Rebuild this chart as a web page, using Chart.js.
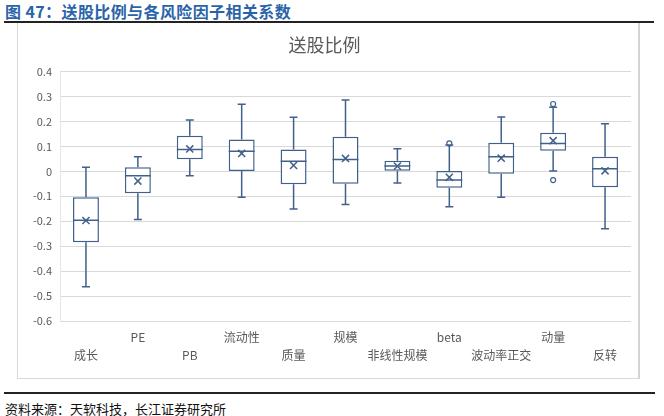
<!DOCTYPE html>
<html>
<head>
<meta charset="utf-8">
<script src="https://cdn.jsdelivr.net/npm/chart.js@4"></script>
<style>
    body { margin: 0; width: 664px; height: 416px; background: #fff; position: relative; overflow: hidden; font-family: "Noto Sans CJK SC", "Noto Sans", sans-serif; }
    #hdr { position: absolute; left: 5px; top: 0px; font-size: 16px; font-weight: bold; color: #2a64a8; line-height: 22px; white-space: nowrap; letter-spacing: 0.4px; }
    #hdrLine { position: absolute; left: 4px; top: 21px; width: 650px; height: 2px; background: #222; }
    #frame { position: absolute; left: 17px; top: 23px; width: 620px; height: 355px; border: 1px solid #d9d9d9; border-right: 2px solid #d4d4d4; border-top: none; }
    #chart { position: absolute; left: 18px; top: 24px; }
    #ftrLine { position: absolute; left: 4px; top: 392px; width: 651px; height: 2px; background: #222; }
    #ftr { position: absolute; left: 5px; top: 400px; font-size: 13px; color: #111; line-height: 18px; white-space: nowrap; }
</style>
</head>
<body>
<div id="hdr">图 47：送股比例与各风险因子相关系数</div>
<div id="hdrLine"></div>
<div id="frame"></div>
<canvas id="chart" width="620" height="354"></canvas>
<div id="ftrLine"></div>
<div id="ftr">资料来源：天软科技，长江证券研究所</div>
<script>
const categories = ['成长', 'PE', 'PB', '流动性', '质量', '规模', '非线性规模', 'beta', '波动率正交', '动量', '反转'];
const whiskerMax = [0.016, 0.059, 0.206, 0.269, 0.217, 0.286, 0.091, 0.106, 0.218, 0.257, 0.191];
const q3 = [-0.104, 0.016, 0.143, 0.128, 0.088, 0.139, 0.043, 0.001, 0.115, 0.155, 0.059];
const median = [-0.196, -0.018, 0.088, 0.081, 0.041, 0.048, 0.021, -0.035, 0.059, 0.112, 0.010];
const mean = [-0.197, -0.039, 0.090, 0.072, 0.024, 0.052, 0.021, -0.024, 0.053, 0.123, 0.002];
const q1 = [-0.284, -0.088, 0.049, 0.001, -0.052, -0.050, 0.002, -0.066, -0.010, 0.083, -0.064];
const whiskerMin = [-0.463, -0.193, -0.018, -0.104, -0.151, -0.133, -0.047, -0.142, -0.104, 0.001, -0.230];
const outlierHigh = [null, null, null, null, null, null, null, 0.112, null, 0.270, null];
const outlierLow = [null, null, null, null, null, null, null, null, null, -0.035, null];

const boxColor = '#41618a';
const textColor = '#595959';

// whiskers, caps and median lines, placed with the chart's own scales
const boxLines = {
    id: 'boxLines',
    afterDatasetsDraw(chart) {
        const ctx = chart.ctx;
        const y = chart.scales.y;
        const bars = chart.getDatasetMeta(0).data;
        ctx.save();
        ctx.strokeStyle = boxColor;
        ctx.lineWidth = 1.5;
        bars.forEach((bar, i) => {
            const cx = bar.x;
            const half = bar.width / 2;
            const cap = 4;
            const yMax = y.getPixelForValue(whiskerMax[i]);
            const yQ3 = y.getPixelForValue(q3[i]);
            const yQ1 = y.getPixelForValue(q1[i]);
            const yMin = y.getPixelForValue(whiskerMin[i]);
            const yMed = y.getPixelForValue(median[i]);
            ctx.beginPath();
            ctx.moveTo(cx, yMax); ctx.lineTo(cx, yQ3);
            ctx.moveTo(cx, yQ1); ctx.lineTo(cx, yMin);
            ctx.moveTo(cx - cap, yMax); ctx.lineTo(cx + cap, yMax);
            ctx.moveTo(cx - cap, yMin); ctx.lineTo(cx + cap, yMin);
            ctx.moveTo(cx - half, yMed); ctx.lineTo(cx + half, yMed);
            ctx.stroke();
        });
        ctx.restore();
    }
};

new Chart(document.getElementById('chart').getContext('2d'), {
    type: 'bar',
    data: {
        labels: categories,
        datasets: [{
            type: 'bar',
            data: q1.map((v, i) => [v, q3[i]]),
            backgroundColor: '#ffffff',
            borderColor: boxColor,
            borderWidth: 1.5,
            borderSkipped: false,
            barPercentage: 0.5,
            categoryPercentage: 1,
            order: 3
        }, {
            type: 'line',
            data: mean,
            showLine: false,
            pointStyle: 'crossRot',
            pointRadius: 5,
            borderColor: boxColor,
            borderWidth: 1.5,
            order: 1
        }, {
            type: 'line',
            data: outlierHigh,
            showLine: false,
            pointStyle: 'circle',
            pointRadius: 2.5,
            backgroundColor: '#ffffff',
            borderColor: boxColor,
            borderWidth: 1.2,
            order: 2
        }, {
            type: 'line',
            data: outlierLow,
            showLine: false,
            pointStyle: 'circle',
            pointRadius: 2.5,
            backgroundColor: '#ffffff',
            borderColor: boxColor,
            borderWidth: 1.2,
            order: 2
        }]
    },
    options: {
        responsive: false,
        animation: false,
        devicePixelRatio: 1,
        layout: { padding: { left: 0, right: 7, top: 0, bottom: 0 } },
        scales: {
            y: {
                min: -0.6,
                max: 0.4,
                ticks: {
                    stepSize: 0.1,
                    padding: 8,
                    color: textColor,
                    font: { family: '"Noto Sans CJK SC"', size: 11 },
                    callback: function(value) {
                        return String(Math.round(value * 10) / 10);
                    }
                },
                grid: { color: '#d9d9d9', drawTicks: false },
                border: { display: true, color: '#e6e6e6' },
                afterFit: function(scale) { scale.width = 42; }
            },
            x: {
                ticks: {
                    autoSkip: false,
                    maxRotation: 0,
                    padding: 0,
                    color: textColor,
                    font: { family: '"Noto Sans CJK SC"', size: 12, lineHeight: 1.45 },
                    callback: function(value, index) {
                        return index % 2 === 0 ? ['', categories[index]] : [categories[index], ''];
                    }
                },
                grid: { display: false },
                border: { display: false },
                afterFit: function(scale) { scale.height = 57; }
            }
        },
        plugins: {
            legend: { display: false },
            tooltip: { enabled: false },
            title: {
                display: true,
                text: '送股比例',
                color: textColor,
                font: { family: '"Noto Sans CJK SC"', size: 18, weight: 'normal', lineHeight: 1.2 },
                padding: { top: 10, bottom: 16 }
            }
        }
    },
    plugins: [boxLines]
});
</script>
</body>
</html>
